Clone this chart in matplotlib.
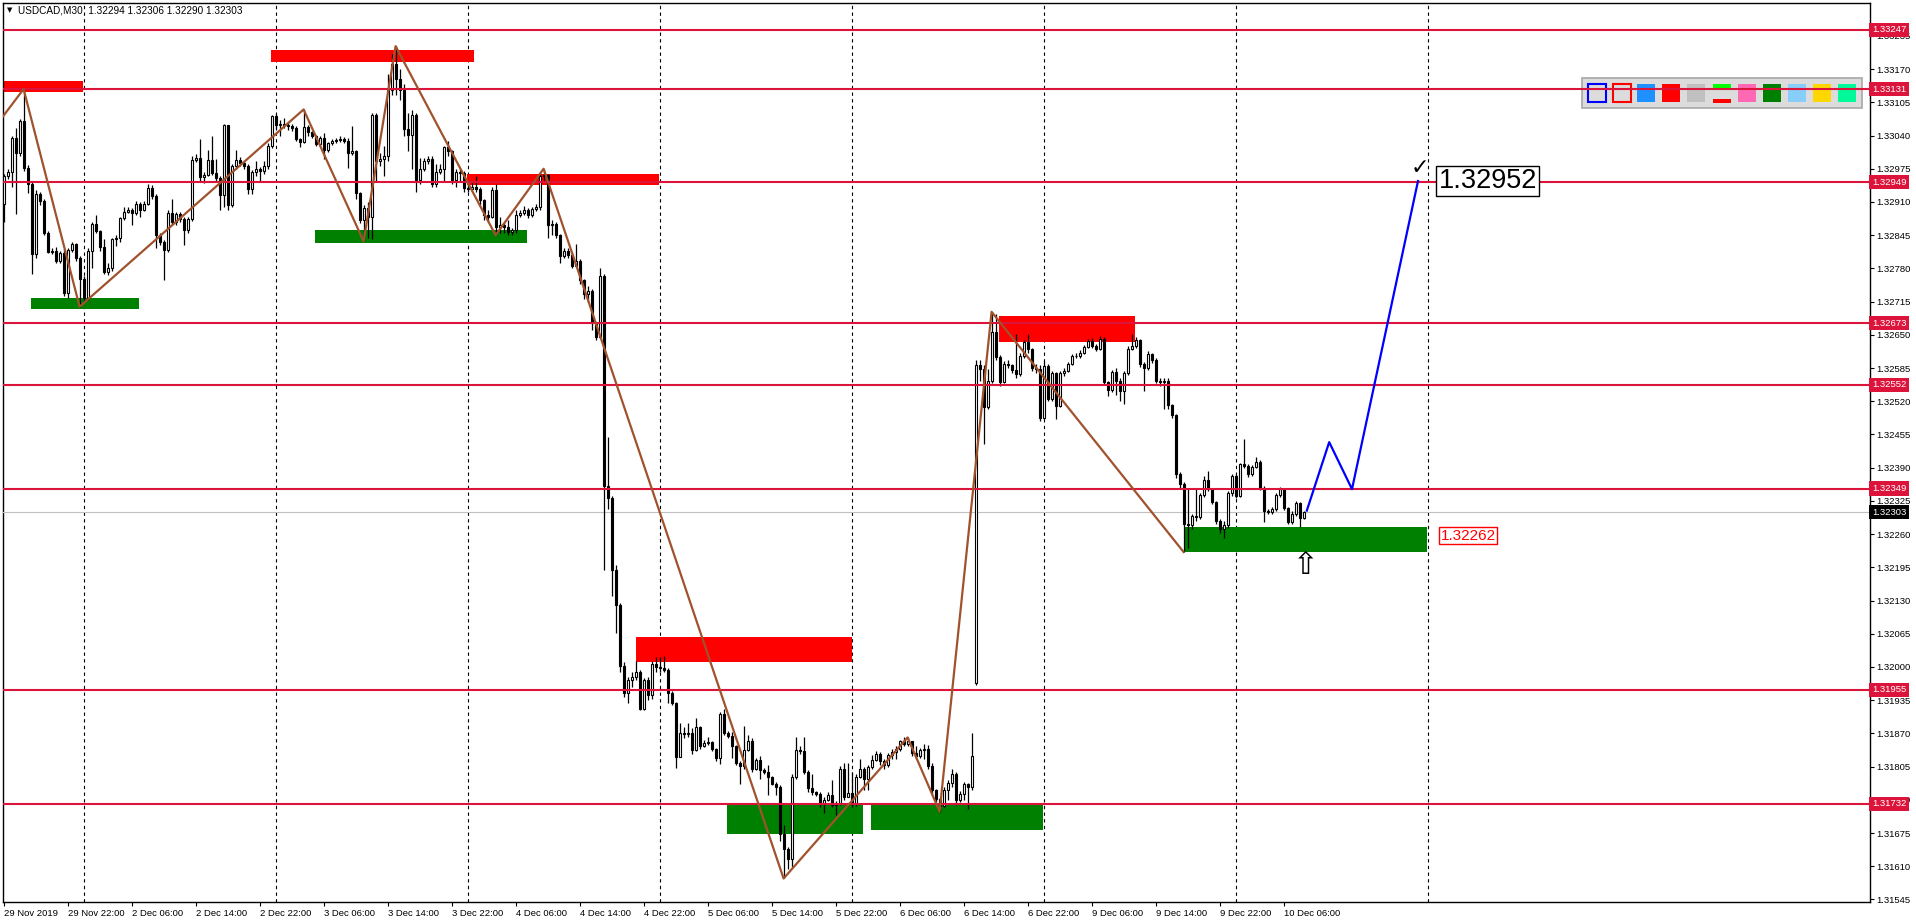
import matplotlib
matplotlib.use("Agg")
import matplotlib.pyplot as plt
import numpy as np
from matplotlib.patches import Rectangle
from matplotlib.transforms import blended_transform_factory

# USDCAD M30 bars, prices in 1e-5 units (132303 - 100000 -> 32303 means 1.32303)
close_pts = [
    32960, 32968, 33036, 33006, 33068, 32976, 32946, 32809, 32926, 32912,
    32849, 32813, 32815, 32795, 32810, 32731, 32816, 32827, 32800, 32760,
    32722, 32815, 32867, 32854, 32822, 32773, 32780, 32837, 32839, 32878,
    32891, 32895, 32889, 32907, 32895, 32907, 32938, 32921, 32845, 32832,
    32816, 32888, 32870, 32886, 32876, 32855, 32876, 32993, 32997, 32958,
    32963, 32993, 32967, 32957, 32924, 33060, 32904, 32980, 32993, 32987,
    32980, 32935, 32969, 32975, 32970, 32981, 33019, 33078, 33060, 33063,
    33061, 33059, 33055, 33034, 33027, 33056, 33046, 33040, 33024, 33035,
    33012, 33025, 33030, 33031, 33034, 33030, 33006, 33010, 32927, 32875,
    32899, 32880, 33081, 32990, 32995, 33000, 33130, 33180, 33150, 33130,
    33053, 33041, 33081, 32953, 32975, 32990, 32995, 32945, 32969, 32975,
    33017, 33009, 32953, 32969, 32966, 32937, 32935, 32940, 32935, 32913,
    32885, 32880, 32933, 32861, 32865, 32862, 32852, 32855, 32885, 32888,
    32895, 32885, 32896, 32900, 32961, 32962, 32865, 32866, 32845, 32805,
    32815, 32807, 32785, 32795, 32757, 32729, 32735, 32673, 32645, 32765,
    32354, 32330, 32190, 32122, 32001, 31950, 31974, 31980, 31990, 31918,
    31974, 31945, 32005, 32000, 31998, 31995, 31950, 31929, 31823, 31870,
    31868, 31870, 31837, 31883, 31845, 31852, 31853, 31839, 31821, 31908,
    31871, 31865, 31845, 31813, 31806, 31838, 31856, 31800, 31818, 31798,
    31795, 31784, 31771, 31765, 31674, 31643, 31625, 31785, 31838, 31836,
    31795, 31763, 31755, 31752, 31732, 31740, 31750, 31730, 31733, 31800,
    31745, 31753, 31732, 31785, 31801, 31780, 31805, 31817, 31830, 31815,
    31808, 31827, 31833, 31840, 31855, 31850, 31855, 31832, 31825, 31838,
    31840, 31806, 31759, 31741, 31728, 31760, 31772, 31790, 31740, 31752,
    31770, 31765, 31825, 32590, 32583, 32508, 32560, 32656, 32606, 32557,
    32593, 32590, 32582, 32573, 32609, 32635, 32622, 32586, 32583, 32488,
    32589, 32524, 32575, 32511, 32576, 32580, 32592, 32608, 32609, 32614,
    32627, 32638, 32629, 32622, 32642, 32558, 32542, 32578, 32560, 32540,
    32576, 32623, 32629, 32640, 32593, 32586, 32612, 32601, 32560, 32557,
    32560, 32512, 32493, 32377, 32358, 32280, 32278, 32295, 32293, 32336,
    32366, 32348, 32322, 32286, 32270, 32278, 32340, 32374, 32335, 32397,
    32394, 32377, 32392, 32402, 32351, 32306, 32304, 32310, 32336, 32348,
    32312, 32284, 32300, 32320, 32292, 32303,
]
high_pts = [
    32965, 32975, 33040, 33054, 33072, 33131, 32982, 32950, 32934, 32930,
    32915, 32853, 32820, 32821, 32815, 32818, 32820, 32832, 32830, 32805,
    32765, 32820, 32870, 32885, 32856, 32837, 32790, 32840, 32845, 32880,
    32901, 32900, 32898, 32912, 32910, 32912, 32945, 32944, 32925, 32850,
    32836, 32895, 32915, 32890, 32890, 32880, 32880, 33000, 33003, 33034,
    32968, 33012, 33040, 32995, 32960, 33062, 33055, 32985, 33012, 32999,
    32990, 32985, 32972, 32990, 32978, 32990, 33025, 33080, 33082, 33070,
    33074, 33065, 33062, 33058, 33036, 33091, 33060, 33048, 33042, 33040,
    33045, 33028, 33034, 33036, 33040, 33038, 33035, 33058, 33012, 32930,
    32905, 32910, 33085, 33085, 33005, 33020, 33160, 33200, 33215, 33170,
    33140, 33085, 33090, 33085, 32997, 32997, 33000, 33000, 32985, 32985,
    33020, 33029, 33012, 32975, 32975, 32970, 32945, 32950, 32960, 32940,
    32915, 32895, 32940, 32945, 32880, 32870, 32875, 32860, 32895, 32895,
    32903, 32898, 32900, 32906, 32966, 32975, 32965, 32875, 32870, 32848,
    32820, 32820, 32812, 32827, 32798, 32760, 32745, 32740, 32675, 32781,
    32770, 32450, 32335, 32200, 32125, 32010, 31980, 31990, 32011, 31995,
    31978, 31980, 32012, 32020, 32020, 32022, 31998, 31952, 31932, 31890,
    31882, 31890, 31880, 31900, 31885, 31858, 31862, 31855, 31842, 31912,
    31918, 31875, 31872, 31848, 31815, 31884, 31866, 31860, 31822, 31826,
    31802, 31808, 31786, 31775, 31768, 31690, 31648, 31790, 31862, 31845,
    31862, 31798, 31790, 31758, 31755, 31745, 31755, 31778, 31738, 31806,
    31812, 31812, 31795, 31790, 31820, 31805, 31808, 31828, 31835, 31833,
    31820, 31832, 31840, 31845, 31858, 31862, 31862, 31856, 31845, 31842,
    31850, 31848, 31812, 31762, 31745, 31765, 31778, 31800, 31795, 31758,
    31775, 31773, 31870, 32600, 32600, 32590, 32583, 32695, 32690, 32610,
    32598, 32600, 32592, 32651, 32615, 32640, 32651, 32625, 32592, 32590,
    32599, 32592, 32580, 32578, 32580, 32585, 32597, 32612, 32615, 32620,
    32630, 32642, 32643, 32632, 32648, 32645, 32560, 32582, 32585, 32565,
    32580, 32628, 32652, 32645, 32642, 32596, 32618, 32615, 32605, 32565,
    32565, 32565, 32515, 32496, 32382, 32362, 32348, 32300, 32348, 32340,
    32374, 32384, 32350, 32325, 32290, 32285, 32345, 32378, 32378, 32400,
    32446, 32398, 32396, 32410, 32405, 32355, 32310, 32314, 32340, 32353,
    32350, 32314, 32305, 32325, 32322, 32306,
]
low_pts = [
    32871, 32955, 32940, 32886, 33000, 32970, 32928, 32770, 32800, 32905,
    32845, 32810, 32808, 32790, 32790, 32726, 32722, 32812, 32795, 32705,
    32715, 32718, 32780, 32850, 32815, 32770, 32768, 32775, 32824, 32832,
    32875, 32888, 32865, 32885, 32880, 32892, 32905, 32915, 32820, 32825,
    32757, 32812, 32866, 32865, 32870, 32825, 32850, 32872, 32988, 32950,
    32948, 32960, 32962, 32950, 32895, 32900, 32895, 32900, 32975, 32980,
    32975, 32925, 32925, 32960, 32950, 32965, 32975, 33015, 33050, 33040,
    33055, 33050, 33048, 33030, 33018, 33025, 33040, 33035, 33020, 33020,
    32995, 33008, 33022, 33025, 33028, 33025, 32977, 33002, 32915, 32868,
    32833, 32840, 32838, 32950, 32980, 32960, 32990, 33120, 33120, 33110,
    33040, 33010, 32975, 32929, 32945, 32970, 32985, 32940, 32940, 32965,
    32950, 33000, 32945, 32940, 32950, 32930, 32930, 32932, 32930, 32905,
    32875, 32870, 32878, 32845, 32849, 32850, 32845, 32845, 32850, 32880,
    32885, 32878, 32880, 32892, 32895, 32950, 32840, 32845, 32840, 32790,
    32800, 32800, 32780, 32785, 32750, 32720, 32715, 32660, 32640, 32643,
    32190, 32310, 32138, 32066, 31990, 31942, 31930, 31960, 31975, 31915,
    31915, 31935, 31938, 31990, 31990, 31990, 31930, 31925, 31802, 31835,
    31860, 31862, 31830, 31835, 31840, 31843, 31848, 31835, 31815, 31810,
    31866, 31860, 31822, 31808, 31770, 31800, 31835, 31795, 31798, 31780,
    31790, 31750, 31768, 31750, 31660, 31586, 31605, 31609, 31780, 31830,
    31790, 31755, 31750, 31748, 31725, 31715, 31738, 31725, 31710, 31730,
    31740, 31745, 31725, 31728, 31782, 31760, 31760, 31800, 31815, 31808,
    31800, 31805, 31820, 31820, 31835, 31845, 31845, 31825, 31820, 31822,
    31820, 31800, 31750, 31735, 31717, 31725, 31740, 31765, 31730, 31735,
    31740, 31722, 31760, 31965, 32560, 32436, 32505, 32555, 32600, 32549,
    32555, 32585, 32575, 32565, 32570, 32605, 32615, 32580, 32575, 32482,
    32485, 32520, 32520, 32485, 32508, 32570, 32578, 32590, 32604, 32605,
    32612, 32625, 32625, 32618, 32620, 32552, 32530, 32538, 32533, 32520,
    32515, 32572, 32620, 32625, 32588, 32540, 32582, 32595, 32555, 32550,
    32505, 32505, 32488, 32370, 32350, 32225, 32232, 32270, 32285, 32290,
    32332, 32344, 32318, 32280, 32263, 32252, 32272, 32335, 32330, 32332,
    32390, 32372, 32374, 32390, 32346, 32283, 32300, 32300, 32306, 32332,
    32308, 32280, 32280, 32295, 32273, 32290,
]
# bars whose open is not the previous close
open_gaps = {0: 32906, 243: 31968}

time_labels = ["29 Nov 2019", "29 Nov 22:00", "2 Dec 06:00", "2 Dec 14:00", "2 Dec 22:00",
               "3 Dec 06:00", "3 Dec 14:00", "3 Dec 22:00", "4 Dec 06:00", "4 Dec 14:00",
               "4 Dec 22:00", "5 Dec 06:00", "5 Dec 14:00", "5 Dec 22:00", "6 Dec 06:00",
               "6 Dec 14:00", "6 Dec 22:00", "9 Dec 06:00", "9 Dec 14:00", "9 Dec 22:00",
               "10 Dec 06:00"]
day_start_bars = [20, 68, 116, 164, 212, 260, 308, 356]

levels = [1.33247, 1.33131, 1.32949, 1.32673, 1.32552, 1.32349, 1.31955, 1.31732]
last_price = 1.32303

# zones: (bar from, bar to, price low, price high)
red_zones = [(-0.5, 19.8, 1.33126, 1.33147), (66.9, 117.6, 1.33183, 1.33208),
             (115.9, 163.9, 1.32944, 1.32964), (158.0, 212.0, 1.32010, 1.32059),
             (248.9, 282.9, 1.32636, 1.32686)]
green_zones = [(6.9, 33.8, 1.32701, 1.32722), (77.9, 130.8, 1.32830, 1.32856),
               (180.9, 214.8, 1.31673, 1.31731), (216.9, 259.9, 1.31681, 1.31731),
               (295.0, 355.9, 1.32224, 1.32274)]

zz_bars = [-0.3, 5, 19, 75, 90, 98, 123, 135, 195, 226, 234, 247, 295]
zz_prices = [1.33076, 1.33131, 1.32705, 1.33091, 1.32833, 1.33215, 1.32845, 1.32975,
             1.31586, 1.31862, 1.31717, 1.32695, 1.32225]

plan_bars = [325.8, 331.4, 337.1, 353.6]
plan_prices = [1.32306, 1.32440, 1.32348, 1.32951]

palette_colors = ["#0000FF", "#FF0000", "#1E90FF", "#FF0000", "#C0C0C0", "mixed",
                  "#FF69B4", "#008000", "#87CEFA", "#FFD700", "#00FA9A"]

W, H = 1916, 923
fig = plt.figure(figsize=(W / 100, H / 100), dpi=100)
ax = fig.add_axes([2.5 / W, (H - 902) / H, (1870 - 2.5) / W, (902 - 2.7) / H])


def px2ax(x, y):
    return (x - 2.5) / (1870 - 2.5), (902 - y) / (902 - 2.7)


def to_price(p):
    return 1.0 + np.asarray(p, dtype=float) * 1e-5


# day separators
for d in day_start_bars:
    ax.axvline(d, color="black", lw=0.8, ls=(0, (3, 3)), zorder=1)

for b0, b1, p0, p1 in red_zones:
    ax.add_patch(Rectangle((b0, p0), b1 - b0, p1 - p0, fc="#FF0000", ec="none", zorder=2))
for b0, b1, p0, p1 in green_zones:
    ax.add_patch(Rectangle((b0, p0), b1 - b0, p1 - p0, fc="#008000", ec="none", zorder=2))

# candles
cl_pts = np.array(close_pts, dtype=float)
op_pts = np.concatenate([[np.nan], cl_pts[:-1]])
for k, v in open_gaps.items():
    op_pts[k] = v
cl = to_price(cl_pts)
op = to_price(op_pts)
hi = np.maximum.reduce([to_price(high_pts), op, cl])
lo = np.minimum.reduce([to_price(low_pts), op, cl])
xs = np.arange(len(cl))
ax.vlines(xs, lo, hi, color="black", lw=0.9, zorder=4)
ax.bar(xs, np.abs(cl - op), bottom=np.minimum(op, cl), width=0.5,
       color=np.where(cl >= op, "white", "black"), edgecolor="black", linewidth=0.8, zorder=4)

ax.axhline(last_price, color="#C0C0C0", lw=0.8, zorder=3)
for lv in levels:
    ax.axhline(lv, color="#DC143C", lw=1.5, zorder=5)

ax.plot(zz_bars, zz_prices, color="#A0522D", lw=1.6, zorder=6)
ax.plot(plan_bars, plan_prices, color="#0000FF", lw=1.6, zorder=6)

ax.set_xlim((2.5 - 3.6) / 4, (1870 - 3.6) / 4)
ax.set_ylim(1.31540, 1.33300)

# annotations
ax.text(354.1, 1.32977, "\u2713", fontsize=16, ha="center", va="center", color="black",
        family="DejaVu Sans", zorder=8)
ax.text(358.7, 1.32951, "1.32952", fontsize=19.5, ha="left", va="center", color="black",
        family="Liberation Sans", zorder=8,
        bbox=dict(boxstyle="square,pad=0.08", fc="white", ec="black", lw=1))
ax.text(359.2, 1.32257, "1.32262", fontsize=11, ha="left", va="center", color="#FF0000",
        family="Liberation Sans", zorder=8,
        bbox=dict(boxstyle="square,pad=0.1", fc="white", ec="#FF0000", lw=1))
ax.text(325.6, 1.32198, "\u21e7", fontsize=22, ha="center", va="center", color="black",
        family="DejaVu Sans", zorder=8)

# object palette (top right)
bx, by = px2ax(1582, 108)
bx2, by2 = px2ax(1862, 78)
ax.add_patch(Rectangle((bx, by), bx2 - bx, by2 - by, transform=ax.transAxes,
                       fc="#DCDCDC", ec="#A8A8A8", lw=1.2, zorder=3))
for k, col in enumerate(palette_colors):
    x0 = 1587 + 25.1 * k
    if k < 2:
        a, b = px2ax(x0 + 1, 102)
        a2, b2 = px2ax(x0 + 19, 84)
        ax.add_patch(Rectangle((a, b), a2 - a, b2 - b, transform=ax.transAxes,
                               fc="none", ec=col, lw=1.5, zorder=3.5))
    elif col == "mixed":
        for yy0, yy1, c2 in [(84, 88, "#00FF00"), (99, 103, "#FF0000")]:
            a, b = px2ax(x0, yy1)
            a2, b2 = px2ax(x0 + 18, yy0)
            ax.add_patch(Rectangle((a, b), a2 - a, b2 - b, transform=ax.transAxes,
                                   fc=c2, ec="none", zorder=3.5))
    else:
        a, b = px2ax(x0, 102)
        a2, b2 = px2ax(x0 + 18, 84)
        ax.add_patch(Rectangle((a, b), a2 - a, b2 - b, transform=ax.transAxes,
                               fc=col, ec="none", zorder=3.5))

# axes styling
for sp in ax.spines.values():
    sp.set_linewidth(1.0)
ax.yaxis.tick_right()
yt = [1.31545 + 0.00065 * k for k in range(27)]
ax.set_yticks(yt)
ax.set_yticklabels([f"{v:.5f}" for v in yt], family="Liberation Sans", fontsize=6.8)
ax.tick_params(axis="y", length=3, width=0.8, pad=1.5)
ax.set_xticks([16 * k for k in range(len(time_labels))])
ax.set_xticklabels(time_labels, family="Liberation Sans", fontsize=6.8)
for lab in ax.get_xticklabels():
    lab.set_ha("left")
ax.tick_params(axis="x", length=3, width=0.8, pad=2)

trans = blended_transform_factory(ax.transAxes, ax.transData)
for lv in levels:
    ax.text(1.0011, lv, f"{lv:.5f}", transform=trans, fontsize=6.8, color="white",
            family="Liberation Sans", ha="left", va="center", zorder=10, clip_on=False,
            bbox=dict(boxstyle="square,pad=0.28", fc="#DC143C", ec="none"))
ax.text(1.0011, last_price, f"{last_price:.5f}", transform=trans, fontsize=6.8, color="white",
        family="Liberation Sans", ha="left", va="center", zorder=10, clip_on=False,
        bbox=dict(boxstyle="square,pad=0.28", fc="black", ec="none"))

# header
fig.text(7 / W, 1 - 10.5 / H, "\u25bc", fontsize=5, va="center", ha="left", family="DejaVu Sans")
fig.text(18 / W, 1 - 10.5 / H, "USDCAD,M30  1.32294 1.32306 1.32290 1.32303", fontsize=7.2,
         va="center", ha="left", family="Liberation Sans")

fig.savefig("out.png", dpi=100)
